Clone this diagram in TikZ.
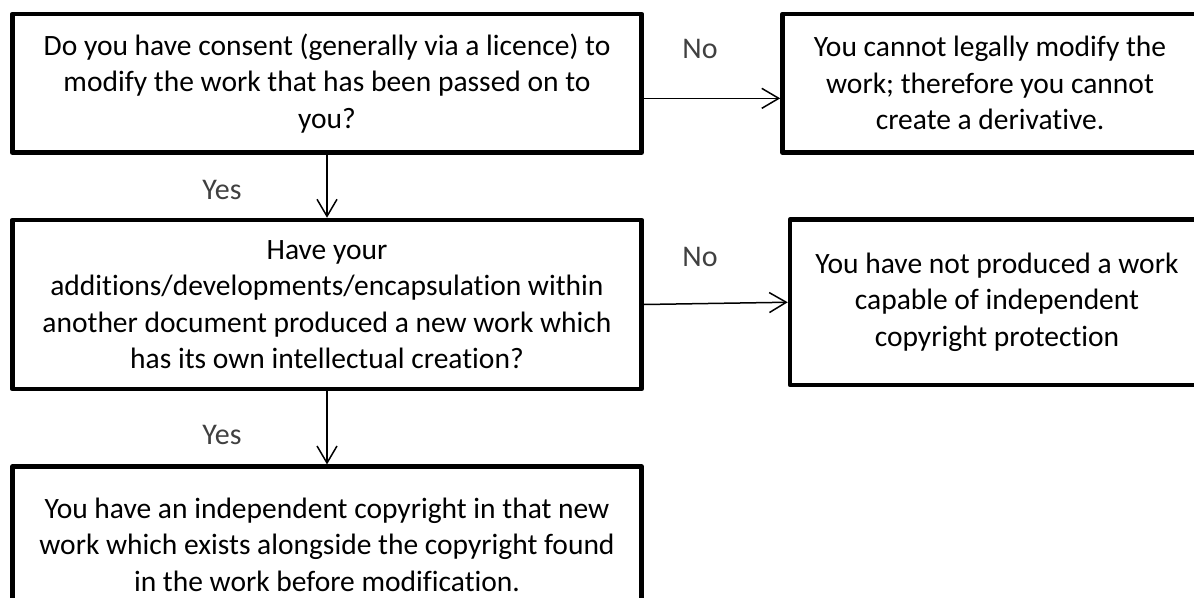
\documentclass[tikz,border=0pt]{standalone}
\usepackage{fontspec}
\setmainfont{Carlito}[Ligatures=NoCommon]
\usetikzlibrary{arrows.meta}
\definecolor{labelgray}{RGB}{64,64,64}
\begin{document}
\begin{tikzpicture}[x=1pt,y=-1pt,
  box/.style={draw=black, line width=4.5pt, line join=round, align=center,
    inner sep=0pt, text=black, font=\fontsize{29.5}{36.5}\selectfont},
  flow/.style={draw=black, line width=1.5pt,
    -{Straight Barb[length=17pt,width=20pt]}},
  lbl/.style={text=labelgray, font=\fontsize{30}{36}\selectfont}]
\useasboundingbox (0,0) rectangle (1194,597);
\clip (0,0) rectangle (1194,597);

% question and outcome boxes
\node[box, minimum width=629.4pt, minimum height=138.7pt] (q1) at (327,83.35)
  {Do you have consent (generally via a licence) to\\modify the work that has been passed on to\\you?};
\node[box, minimum width=415pt, minimum height=138.7pt] (r1) at (990,83.35)
  {You cannot legally modify the\\work; therefore you cannot\\create a derivative.};
\node[box, minimum width=629.4pt, minimum height=169pt] (q2) at (327,304.5)
  {Have your\\additions/developments/encapsulation within\\another document produced a new work which\\has its own intellectual creation?};
\node[box, minimum width=414pt, minimum height=165.5pt] (r2) at (997,302.25)
  {You have not produced a work\\capable of independent\\copyright protection};
\node[box, minimum width=629.4pt, minimum height=156pt] (r3) at (327,544.7)
  {You have an independent copyright in that new\\work which exists alongside the copyright found\\in the work before modification.};

% connectors
\draw[flow] ([yshift=-15pt]q1.east) -- ([yshift=-15pt]r1.west);
\draw[flow] (q1.south) -- (q2.north);
\draw[flow] (q2.east) -- (r2.west);
\draw[flow] (q2.south) -- (r3.north);

% branch labels
\node[lbl] (no1) at (700,49) {No};
\node[lbl] (yes1) at (222,190) {Yes};
\node[lbl] (no2) at (700,257) {No};
\node[lbl] (yes2) at (222,435) {Yes};
\end{tikzpicture}
\end{document}
